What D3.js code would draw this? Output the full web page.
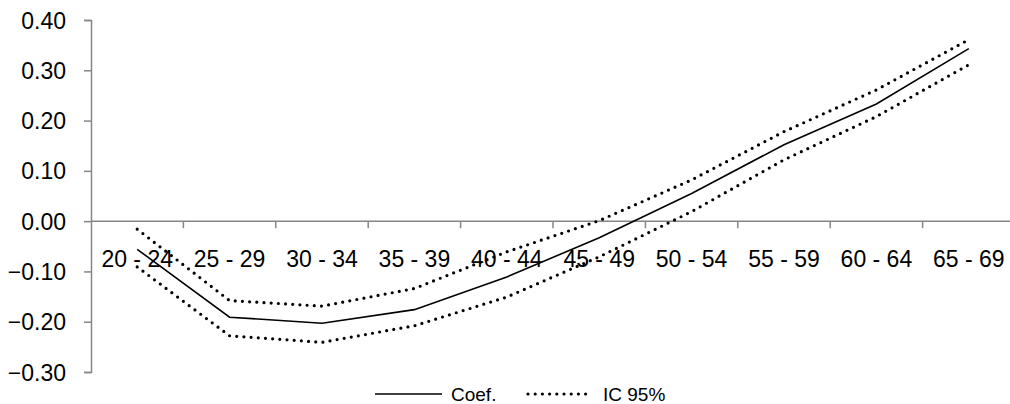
<!DOCTYPE html>
<html>
<head>
<meta charset="utf-8">
<script src="https://cdn.jsdelivr.net/npm/d3@7"></script>
<style>
  html, body { margin: 0; padding: 0; background: #fff; }
  svg { display: block; }
  text { font-family: "Liberation Sans", Arial, sans-serif; fill: #000; }
</style>
</head>
<body>
<svg id="chart" width="1010" height="404"></svg>
<script>
const categories = ["20 - 24","25 - 29","30 - 34","35 - 39","40 - 44","45 - 49","50 - 54","55 - 59","60 - 64","65 - 69"];
const coef  = [-0.056,-0.191,-0.203,-0.176,-0.111,-0.033,0.055,0.152,0.233,0.343];
const upper = [-0.016,-0.158,-0.169,-0.134,-0.061,0.001,0.082,0.178,0.261,0.361];
const lower = [-0.091,-0.228,-0.241,-0.208,-0.151,-0.071,0.019,0.122,0.208,0.311];
const yTicks = [-0.3,-0.2,-0.1,0,0.1,0.2,0.3,0.4];
const legendLabels = ["Coef.", "IC 95%"];

const svg = d3.select("#chart");
const axisColor = "#868686";

const x = d3.scaleBand().domain(categories).range([91, 91 + 10 * 92.4]).padding(0);
const y = d3.scaleLinear().domain([-0.3, 0.4]).range([372, 20]);

// Y axis
const yAxis = d3.axisLeft(y).tickValues(yTicks).tickSize(7).tickPadding(18)
  .tickFormat(d3.format(".2f"));
const gy = svg.append("g").attr("transform", "translate(91,0)").call(yAxis);
gy.select(".domain").attr("stroke", axisColor).attr("stroke-width", 1.5);
gy.selectAll(".tick line").attr("stroke", axisColor).attr("stroke-width", 1.5);
gy.selectAll(".tick text").style("font-size", "23px").attr("dy", "0.35em");

// X axis at y=0
const y0 = y(0);
const gx = svg.append("g").attr("transform", `translate(0,${y0})`);
gx.append("line").attr("x1", x.range()[0]).attr("x2", x.range()[1])
  .attr("stroke", axisColor).attr("stroke-width", 1.5);
const boundaries = categories.map(c => x(c) + x.bandwidth()).concat([]);
gx.selectAll("line.tk").data(boundaries).join("line").attr("class", "tk")
  .attr("x1", d => d).attr("x2", d => d).attr("y1", 0).attr("y2", 7)
  .attr("stroke", axisColor).attr("stroke-width", 1.5);
gx.selectAll("text.lbl").data(categories).join("text").attr("class", "lbl")
  .attr("x", d => x(d) + x.bandwidth() / 2).attr("y", 46)
  .attr("text-anchor", "middle").style("font-size", "23px").text(d => d);

// Lines
const line = d3.line().x((d, i) => x(categories[i]) + x.bandwidth() / 2).y(d => y(d));
const dotted = { "stroke-width": 3.2, "stroke-dasharray": "0 7.2", "stroke-linecap": "round" };
function drawLine(data, style) {
  const p = svg.append("path").datum(data).attr("d", line).attr("fill", "none").attr("stroke", "#000");
  Object.entries(style).forEach(([k, v]) => p.attr(k, v));
}
drawLine(upper, dotted);
drawLine(lower, dotted);
drawLine(coef, { "stroke-width": 1.6 });

// Legend
const lg = svg.append("g");
lg.append("line").attr("x1", 375).attr("x2", 442).attr("y1", 394).attr("y2", 394)
  .attr("stroke", "#000").attr("stroke-width", 1.6);
lg.append("text").attr("x", 451).attr("y", 401).style("font-size", "19px").text(legendLabels[0]);
lg.append("line").attr("x1", 528).attr("x2", 591).attr("y1", 394).attr("y2", 394)
  .attr("stroke", "#000").attr("stroke-width", 3.2).attr("stroke-dasharray", "0 7.2").attr("stroke-linecap", "round");
lg.append("text").attr("x", 603).attr("y", 401).style("font-size", "19px").text(legendLabels[1]);
</script>
</body>
</html>
